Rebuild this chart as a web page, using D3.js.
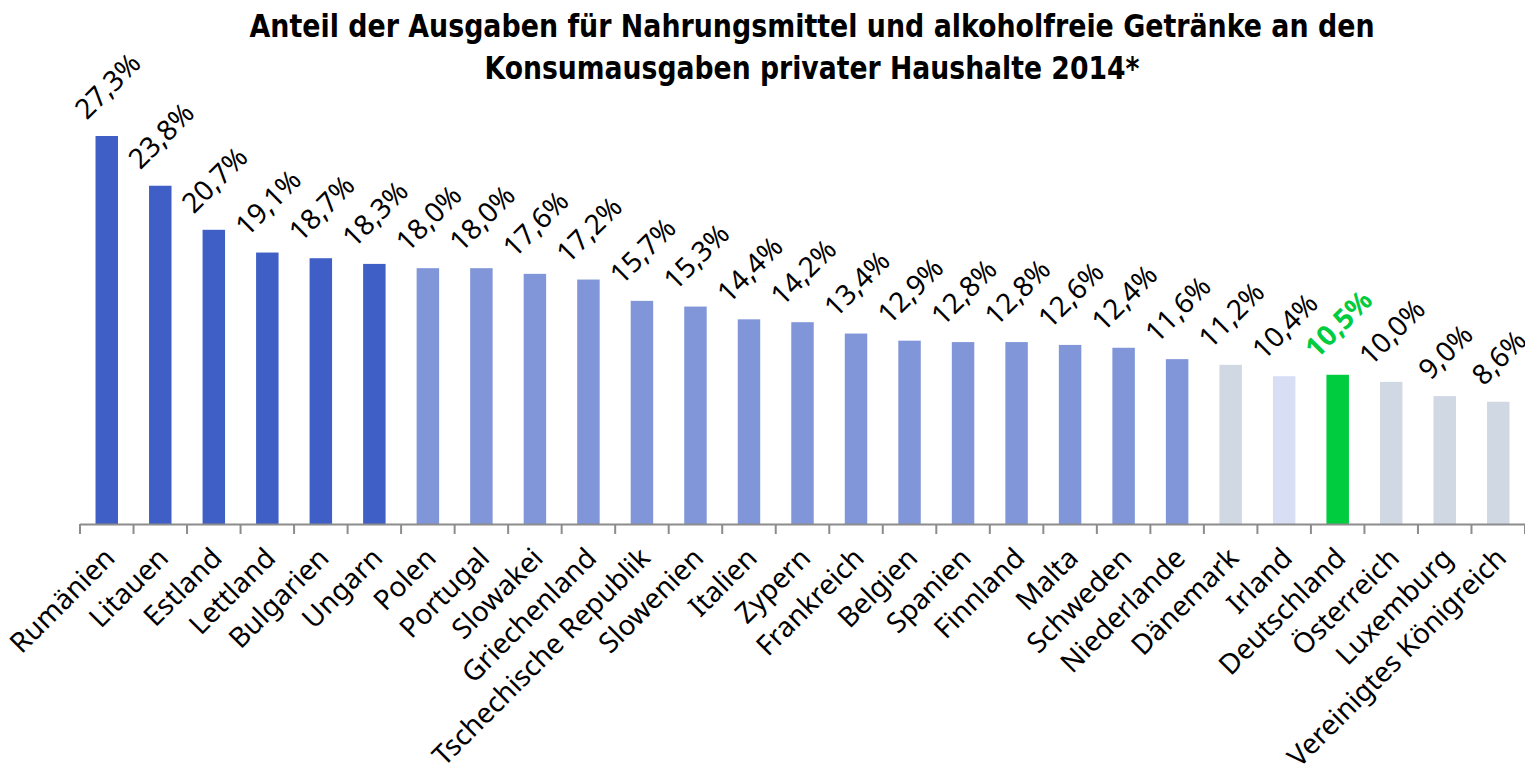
<!DOCTYPE html>
<html>
<head>
<meta charset="utf-8">
<script src="https://cdn.jsdelivr.net/npm/d3@7"></script>
<style>
  body { margin: 0; background: #fff; }
  svg { display: block; }
</style>
</head>
<body>
<div id="chart"></div>
<script>
// Chart data
const titleLines = [
  "Anteil der Ausgaben für Nahrungsmittel und alkoholfreie Getränke an den",
  "Konsumausgaben privater Haushalte 2014*"
];
const countries = [
  "Rumänien", "Litauen", "Estland", "Lettland", "Bulgarien", "Ungarn", "Polen",
  "Portugal", "Slowakei", "Griechenland", "Tschechische Republik", "Slowenien",
  "Italien", "Zypern", "Frankreich", "Belgien", "Spanien", "Finnland", "Malta",
  "Schweden", "Niederlande", "Dänemark", "Irland", "Deutschland", "Österreich",
  "Luxemburg", "Vereinigtes Königreich"
];
const shares = [
  27.3, 23.8, 20.7, 19.1, 18.7, 18.3, 18.0, 18.0, 17.6, 17.2, 15.7, 15.3,
  14.4, 14.2, 13.4, 12.9, 12.8, 12.8, 12.6, 12.4, 11.6, 11.2, 10.4, 10.5,
  10.0, 9.0, 8.6
];
// colour group per country
const groups = [
  "hoch", "hoch", "hoch", "hoch", "hoch", "hoch", "mittel", "mittel", "mittel",
  "mittel", "mittel", "mittel", "mittel", "mittel", "mittel", "mittel", "mittel",
  "mittel", "mittel", "mittel", "mittel", "grau", "hell", "de", "grau", "grau", "grau"
];

const colors = {
  hoch: "#3f5fc6",
  mittel: "#8096d9",
  grau: "#d0d8e4",
  hell: "#d8dff4",
  de: "#00cc40"
};

const width = 1525, height = 770;
const baseY = 524;
const fontLabel = "'Noto Sans', sans-serif";
const fs = 28;

const data = countries.map((c, i) => ({ country: c, value: shares[i], group: groups[i] }));

const svg = d3.select("#chart")
  .append("svg")
    .attr("width", width)
    .attr("height", height);

// Scales
const x = d3.scaleBand()
  .domain(countries)
  .range([80, 1525])
  .paddingInner(0.58)
  .paddingOuter(0.29);

const y = d3.scaleLinear()
  .domain([0, 27.3])
  .range([baseY, 136]);

// Title (condensed bold look)
const titleWidths = [1125, 655];
svg.append("g")
  .selectAll("text")
  .data(titleLines)
  .join("text")
    .attr("x", 812)
    .attr("y", (d, i) => 37 + i * 42)
    .attr("text-anchor", "middle")
    .attr("textLength", (d, i) => titleWidths[i])
    .attr("lengthAdjust", "spacingAndGlyphs")
    .style("font-family", "'DejaVu Sans Condensed', 'DejaVu Sans', sans-serif")
    .style("font-weight", "bold")
    .style("font-size", "32px")
    .text(d => d);

// Bars
svg.selectAll(".bar")
  .data(data)
  .join("rect")
    .attr("class", "bar")
    .attr("x", d => x(d.country))
    .attr("width", x.bandwidth())
    .attr("y", d => y(d.value))
    .attr("height", d => baseY - y(d.value))
    .attr("fill", d => colors[d.group]);

// Axis line and ticks between categories
const step = x.step();
const x0 = x.range()[0];
svg.append("line")
  .attr("x1", x0).attr("x2", x.range()[1])
  .attr("y1", baseY + 0.5).attr("y2", baseY + 0.5)
  .attr("stroke", "#8c8c8c")
  .attr("stroke-width", 2);

svg.selectAll(".tick")
  .data(d3.range(countries.length + 1))
  .join("line")
    .attr("class", "tick")
    .attr("x1", i => x0 + i * step)
    .attr("x2", i => x0 + i * step)
    .attr("y1", baseY)
    .attr("y2", baseY + 10)
    .attr("stroke", "#8c8c8c")
    .attr("stroke-width", 2);

// Category labels
svg.selectAll(".cat")
  .data(data)
  .join("text")
    .attr("class", "cat")
    .attr("transform", d => `translate(${x(d.country) + x.bandwidth() / 2 + 2},${baseY + 28}) rotate(-45)`)
    .attr("text-anchor", "end")
    .attr("dominant-baseline", "central")
    .style("font-family", fontLabel)
    .style("font-size", fs + "px")
    .style("fill", "#000")
    .text(d => d.country);

// Value labels (rotated, sitting above each bar)
const fmt = v => v.toFixed(1).replace(".", ",") + "%";
svg.selectAll(".val")
  .data(data)
  .join("text")
    .attr("class", "val")
    .attr("text-anchor", "middle")
    .attr("dominant-baseline", "central")
    .style("font-family", fontLabel)
    .style("font-size", fs + "px")
    .style("font-weight", d => d.group === "de" ? "bold" : "normal")
    .style("fill", d => d.group === "de" ? colors.de : "#000")
    .text(d => fmt(d.value))
    .attr("transform", function(d) {
      const len = this.getComputedTextLength();
      const off = (len + fs) * 0.3536 + 13;
      return `translate(${x(d.country) + x.bandwidth() / 2},${y(d.value) - off}) rotate(-45)`;
    });
</script>
</body>
</html>
